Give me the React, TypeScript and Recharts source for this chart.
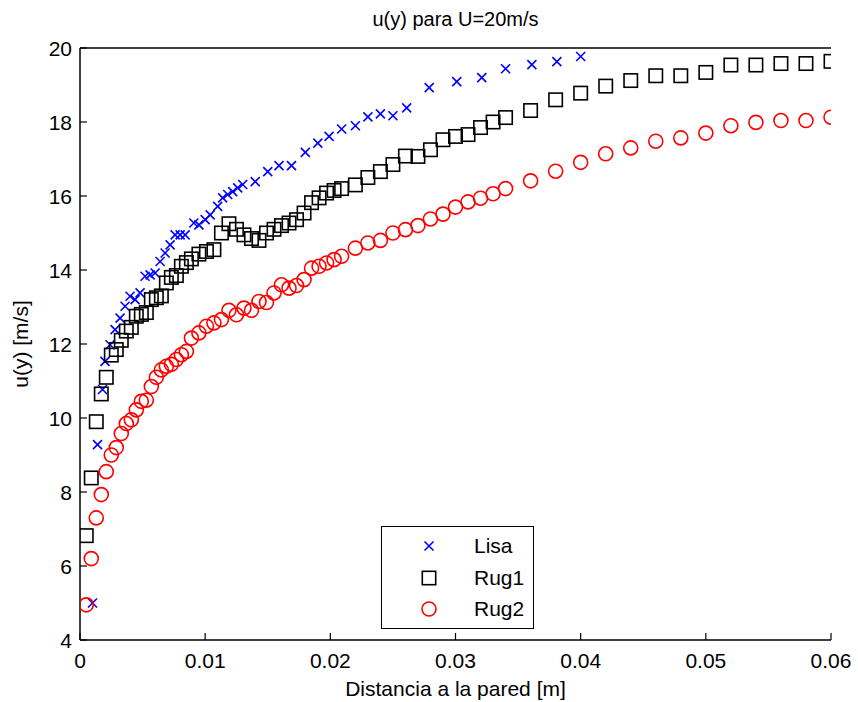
import { ScatterChart, Scatter, XAxis, YAxis, Legend } from 'recharts';

const FONT = '"Liberation Sans", Arial, Helvetica, sans-serif';

const xTicks = [0, 0.01, 0.02, 0.03, 0.04, 0.05, 0.06];
const yTicks = [4, 6, 8, 10, 12, 14, 16, 18, 20];

// Lisa (smooth wall)
const lisaX = [
  0.001, 0.0014, 0.0018, 0.002, 0.0024, 0.0028, 0.0032, 0.0036, 0.004, 0.0044,
  0.0048, 0.0052, 0.0056, 0.006, 0.0064, 0.0068, 0.0072, 0.0076, 0.008, 0.0084,
  0.0091, 0.0095, 0.01, 0.0104, 0.011, 0.0114, 0.0118, 0.0122, 0.0126, 0.013,
  0.014, 0.015, 0.0159, 0.0169, 0.018, 0.019, 0.0199, 0.0209, 0.022, 0.023,
  0.024, 0.025, 0.0261, 0.0279, 0.0301, 0.0321, 0.034, 0.0361, 0.0381, 0.04,
];
const lisaU = [
  5.0, 9.28, 10.77, 11.53, 11.98, 12.39, 12.7, 13.02, 13.29, 13.2,
  13.38, 13.83, 13.87, 13.92, 14.23, 14.46, 14.68, 14.95, 14.95, 14.95,
  15.27, 15.22, 15.36, 15.49, 15.72, 15.95, 16.04, 16.12, 16.22, 16.31,
  16.39, 16.66, 16.82, 16.82, 17.18, 17.43, 17.61, 17.81, 17.9, 18.14,
  18.22, 18.17, 18.38, 18.93, 19.09, 19.2, 19.44, 19.55, 19.63, 19.77,
];

// Rug1 and Rug2 share the same distances
const rugX = [
  0.0005, 0.0009, 0.0013, 0.0017, 0.0021, 0.0025, 0.0029, 0.0033, 0.0037, 0.0041,
  0.0045, 0.0049, 0.0053, 0.0057, 0.0061, 0.0065, 0.0069, 0.0073, 0.0077, 0.0081,
  0.0085, 0.0089, 0.0095, 0.0101, 0.0107, 0.0113, 0.0119, 0.0125, 0.0131, 0.0137,
  0.0143, 0.0149, 0.0155, 0.0161, 0.0167, 0.0173, 0.0179, 0.0185, 0.0191, 0.0197,
  0.0203, 0.0209, 0.022, 0.023, 0.024, 0.025, 0.026, 0.027, 0.028, 0.029,
  0.03, 0.031, 0.032, 0.033, 0.034, 0.036, 0.038, 0.04, 0.042, 0.044,
  0.046, 0.048, 0.05, 0.052, 0.054, 0.056, 0.058, 0.06,
];
const rug1U = [
  6.82, 8.38, 9.9, 10.65, 11.1, 11.7, 11.85, 12.1, 12.35, 12.45,
  12.75, 12.8, 12.85, 13.2, 13.25, 13.3, 13.65, 13.8, 13.85, 14.1,
  14.2, 14.3, 14.43, 14.5, 14.55, 15.0, 15.25, 15.1, 14.95, 14.85,
  14.8, 15.0, 15.1, 15.2, 15.27, 15.36, 15.54, 15.82, 15.95, 16.08,
  16.15, 16.2, 16.3, 16.5, 16.66, 16.85, 17.08, 17.07, 17.25, 17.52,
  17.61, 17.66, 17.85, 18.0, 18.12, 18.31, 18.6, 18.78, 18.97, 19.12,
  19.25, 19.25, 19.34, 19.54, 19.54, 19.58, 19.58, 19.64,
];
const rug2U = [
  4.95, 6.2, 7.3, 7.93, 8.55, 9.0, 9.2, 9.58, 9.85, 9.95,
  10.22, 10.45, 10.48, 10.85, 11.1, 11.3, 11.4, 11.45, 11.58, 11.71,
  11.8, 12.16, 12.3, 12.48, 12.57, 12.66, 12.91, 12.79, 12.97, 12.91,
  13.15, 13.12, 13.38, 13.6, 13.51, 13.58, 13.74, 14.05, 14.1, 14.19,
  14.28, 14.37, 14.59, 14.73, 14.8, 15.0, 15.09, 15.2, 15.38, 15.51,
  15.7, 15.84, 15.94, 16.06, 16.2, 16.41, 16.67, 16.91, 17.14, 17.3,
  17.48, 17.57, 17.7, 17.9, 17.99, 18.04, 18.04, 18.13,
];

const toRows = (xs: number[], us: number[]) => xs.map((x, i) => ({ x, u: us[i] }));

const lisa = toRows(lisaX, lisaU);
const rug1 = toRows(rugX, rug1U);
const rug2 = toRows(rugX, rug2U);

const TICK_LEN = 7;
const FS = 21;

type MarkerKind = 'cross' | 'square' | 'circle';

const markerOf: Record<string, MarkerKind> = { Lisa: 'cross', Rug1: 'square', Rug2: 'circle' };
const colorOf: Record<string, string> = { Lisa: '#0000ff', Rug1: '#000000', Rug2: '#ff0000' };

function Marker({ kind, cx, cy, color }: { kind: MarkerKind; cx: number; cy: number; color: string }) {
  if (kind === 'cross') {
    const h = 4.5;
    return (
      <g stroke={color} strokeWidth={1.6} fill="none">
        <line x1={cx - h} y1={cy - h} x2={cx + h} y2={cy + h} />
        <line x1={cx - h} y1={cy + h} x2={cx + h} y2={cy - h} />
      </g>
    );
  }
  if (kind === 'square') {
    const h = 6.7;
    return <rect x={cx - h} y={cy - h} width={2 * h} height={2 * h} stroke={color} strokeWidth={1.6} fill="none" />;
  }
  return <circle cx={cx} cy={cy} r={7} stroke={color} strokeWidth={1.6} fill="none" />;
}

const shapeFor = (name: string) => (p: any) =>
  <Marker kind={markerOf[name]} cx={p.cx} cy={p.cy} color={colorOf[name]} />;

const fmtX = (v: number) => (v === 0 ? '0' : v.toFixed(2));

function BottomTick({ x, y, payload }: any) {
  return (
    <g>
      <line x1={x} y1={y} x2={x} y2={y - TICK_LEN} stroke="#000" strokeWidth={1.2} />
      <text x={x} y={y + 28} textAnchor="middle" fontSize={FS} fontFamily={FONT} fill="#000">
        {fmtX(payload.value)}
      </text>
    </g>
  );
}

function LeftTick({ x, y, payload }: any) {
  return (
    <g>
      <line x1={x} y1={y} x2={x + TICK_LEN} y2={y} stroke="#000" strokeWidth={1.2} />
      <text x={x - 8} y={y + 7.5} textAnchor="end" fontSize={FS} fontFamily={FONT} fill="#000">
        {payload.value}
      </text>
    </g>
  );
}

function TopTick({ x, y }: any) {
  return <line x1={x} y1={y} x2={x} y2={y + TICK_LEN} stroke="#000" strokeWidth={1.2} />;
}

function RightTick({ x, y }: any) {
  return <line x1={x} y1={y} x2={x - TICK_LEN} y2={y} stroke="#000" strokeWidth={1.2} />;
}

function LegendBox({ payload }: any) {
  return (
    <div
      style={{
        width: 153,
        height: 103,
        boxSizing: 'border-box',
        border: '1.5px solid #000',
        background: '#fff',
        paddingTop: 3,
        fontFamily: FONT,
        fontSize: FS,
      }}
    >
      {(payload || []).map((entry: any) => (
        <div key={entry.value} style={{ display: 'flex', alignItems: 'center', height: 31.5 }}>
          <svg width={92} height={31} style={{ display: 'block' }}>
            <Marker kind={markerOf[entry.value]} cx={47} cy={16} color={colorOf[entry.value]} />
          </svg>
          <span style={{ color: '#000', lineHeight: '31px' }}>{entry.value}</span>
        </div>
      ))}
    </div>
  );
}

const axisLine = { stroke: '#000', strokeWidth: 1.5 };

export default function App() {
  return (
    <div style={{ position: 'absolute', left: 0, top: 0, background: '#fff' }}>
      <ScatterChart width={858} height={702} margin={{ top: 0, right: 27, bottom: 0, left: 0 }}>
        <XAxis
          dataKey="x"
          type="number"
          domain={[0, 0.06]}
          ticks={xTicks}
          allowDataOverflow
          height={62}
          axisLine={axisLine}
          tickLine={false}
          tickSize={0}
          tickMargin={0}
          tick={<BottomTick />}
          interval={0}
          label={{
            value: 'Distancia a la pared [m]',
            position: 'insideBottom',
            offset: 6,
            fontSize: FS,
            fontFamily: FONT,
            fill: '#000',
          }}
        />
        <XAxis
          xAxisId="top"
          orientation="top"
          type="number"
          domain={[0, 0.06]}
          ticks={xTicks}
          height={48}
          axisLine={axisLine}
          tickLine={false}
          tickSize={0}
          tickMargin={0}
          tick={<TopTick />}
          interval={0}
          label={{
            value: 'u(y) para U=20m/s',
            position: 'insideTop',
            offset: 12,
            fontSize: 20,
            fontFamily: FONT,
            fill: '#000',
          }}
        />
        <YAxis
          dataKey="u"
          type="number"
          domain={[4, 20]}
          ticks={yTicks}
          allowDataOverflow
          width={80}
          axisLine={axisLine}
          tickLine={false}
          tickSize={0}
          tickMargin={0}
          tick={<LeftTick />}
          interval={0}
          label={{
            value: 'u(y) [m/s]',
            angle: -90,
            position: 'insideLeft',
            offset: 21,
            fontSize: FS,
            fontFamily: FONT,
            fill: '#000',
            style: { textAnchor: 'middle' },
          }}
        />
        <YAxis
          yAxisId="right"
          orientation="right"
          type="number"
          domain={[4, 20]}
          ticks={yTicks}
          width={0}
          axisLine={axisLine}
          tickLine={false}
          tickSize={0}
          tickMargin={0}
          tick={<RightTick />}
          interval={0}
        />
        <Scatter name="Lisa" data={lisa} shape={shapeFor('Lisa')} isAnimationActive={false} />
        <Scatter name="Rug1" data={rug1} shape={shapeFor('Rug1')} isAnimationActive={false} />
        <Scatter name="Rug2" data={rug2} shape={shapeFor('Rug2')} isAnimationActive={false} />
        <Legend
          layout="vertical"
          align="center"
          verticalAlign="middle"
          content={<LegendBox />}
          wrapperStyle={{ position: 'absolute', left: 381, top: 526, width: 153, height: 103 }}
        />
      </ScatterChart>
    </div>
  );
}
